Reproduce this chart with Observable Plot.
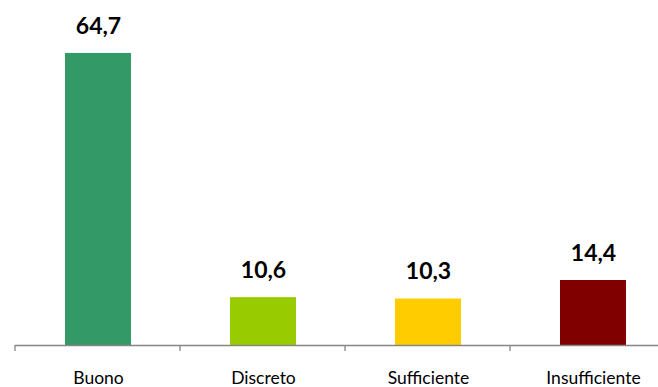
<!DOCTYPE html>
<html>
<head>
<meta charset="utf-8">
<script src="https://cdn.jsdelivr.net/npm/d3@7"></script>
<script src="https://cdn.jsdelivr.net/npm/@observablehq/plot@0.6"></script>
<style>
  html, body { margin: 0; padding: 0; background: #fff; }
  #chart svg { display: block; }
</style>
</head>
<body>
<div id="chart"></div>
<script>
const categories = ["Buono", "Discreto", "Sufficiente", "Insufficiente"];
const values = [64.7, 10.6, 10.3, 14.4];
const colors = ["#339966", "#99CC00", "#FFCC00", "#800000"];

const data = categories.map((c, i) => ({category: c, value: values[i]}));
const fmt = v => v.toFixed(1).replace(".", ",");

const plot = Plot.plot({
  width: 658,
  height: 387,
  marginTop: 29,
  marginBottom: 42,
  marginLeft: 15,
  marginRight: 0,
  style: {fontFamily: "Lato, 'Open Sans', sans-serif", background: "#fff"},
  x: {domain: categories, range: [15, 675], paddingInner: 0.6, paddingOuter: 0.3, align: 0.5, label: null},
  y: {domain: [0, 70], axis: null},
  color: {domain: categories, range: colors},
  marks: [
    Plot.barY(data, {x: "category", y: "value", fill: "category"}),
    Plot.ruleY([0], {stroke: "#868686", strokeWidth: 1.3}),
    Plot.text(data, {
      x: "category", y: "value", text: d => fmt(d.value),
      dy: -27, fontSize: 23, fontWeight: "bold", fill: "#000"
    }),
    Plot.axisX({tickSize: 0, tickPadding: 26, fontSize: 17.5, fill: "#000", label: null})
  ]
});

// tick marks at band boundaries, from the x scale
const xs = plot.scale("x");
const ys = plot.scale("y");
const step = (xs.range[1] - xs.range[0]) / categories.length;
const y0 = ys.apply(0);
const svg = d3.select(plot);
const bounds = d3.range(categories.length + 1).map(i => xs.range[0] + i * step);
svg.append("g")
  .selectAll("line")
  .data(bounds)
  .join("line")
  .attr("x1", d => d).attr("x2", d => d)
  .attr("y1", y0).attr("y2", y0 + 6)
  .attr("stroke", "#868686").attr("stroke-width", 1.3);

document.getElementById("chart").appendChild(plot);
</script>
</body>
</html>
